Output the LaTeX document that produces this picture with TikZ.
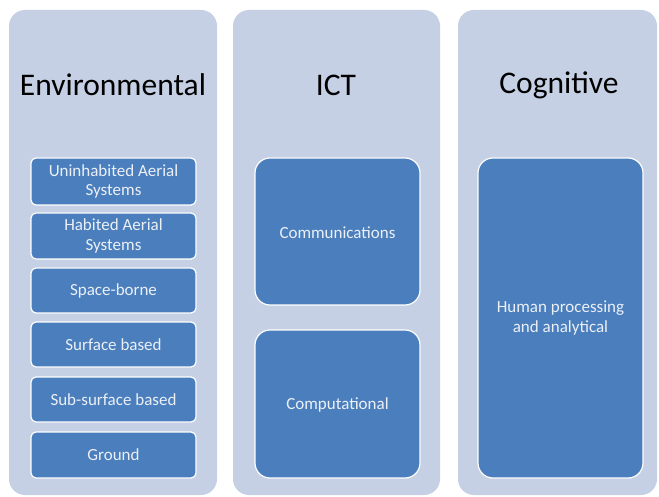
\documentclass[tikz,border=0pt]{standalone}
\usepackage{fontspec}
\setmainfont{Carlito}
\definecolor{outerfill}{RGB}{197,208,228}
\definecolor{innerfill}{RGB}{74,126,189}
\definecolor{innertext}{RGB}{236,240,246}
\begin{document}
\begin{tikzpicture}[x=1pt,y=-1pt,
  column/.style={fill=outerfill, draw=none, rounded corners=16pt},
  title/.style={font=\fontsize{31.5}{33}\selectfont, text=black},
  smallbox/.style={fill=innerfill, draw=white, line width=1.2pt, rounded corners=5pt},
  bigbox/.style={fill=innerfill, draw=white, line width=1.2pt, rounded corners=15pt},
  lbl/.style={font=\fontsize{17}{19.5}\selectfont, text=innertext, align=center}]
\useasboundingbox (0,0) rectangle (659,497);
\fill[white] (0,0) rectangle (659,497);
% columns
\draw[column] (9,10) rectangle (217,495);
\draw[column] (233,10) rectangle (440,495);
\draw[column] (458,10) rectangle (657,495);
% titles
\node[title] (tenv) at (113,85) {Environmental};
\node[title] (tict) at (336,85) {ICT};
\node[title] (tcog) at (559,85) {Cognitive};
% environmental boxes
\draw[smallbox] (31,158) rectangle (196,205);
\node[lbl] (uas) at (113.5,181.5) {Uninhabited Aerial\\Systems};
\draw[smallbox] (31,213) rectangle (196,259);
\node[lbl] (has) at (113.5,236) {Habited Aerial\\Systems};
\draw[smallbox] (31,268) rectangle (196,313);
\node[lbl] (spb) at (113.5,290.5) {Space-borne};
\draw[smallbox] (31,322) rectangle (196,367);
\node[lbl] (sfb) at (113.5,344.5) {Surface based};
\draw[smallbox] (31,377) rectangle (196,422);
\node[lbl] (ssb) at (113.5,399.5) {Sub-surface based};
\draw[smallbox] (31,432) rectangle (196,478);
\node[lbl] (gnd) at (113.5,455) {Ground};
% ICT boxes
\draw[bigbox] (255,158) rectangle (420,305);
\node[lbl] (comm) at (337.5,233) {Communications};
\draw[bigbox] (255,330) rectangle (420,478);
\node[lbl] (comp) at (337.5,405) {Computational};
% Cognitive box
\draw[bigbox] (478,158) rectangle (643,478);
\node[lbl] (hum) at (560.5,318) {Human processing\\and analytical};
\end{tikzpicture}
\end{document}
